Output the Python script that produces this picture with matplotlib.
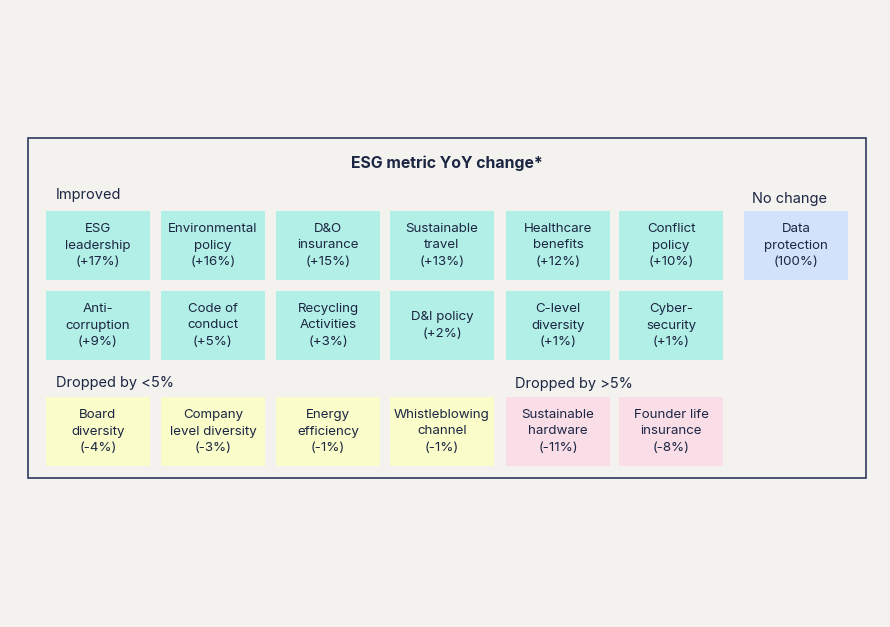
import matplotlib.pyplot as plt
from matplotlib.patches import Rectangle

plt.rcParams['font.family'] = ['Inter', 'DejaVu Sans']

# metric labels, grouped by tile row
row1 = ['ESG\nleadership', 'Environmental\npolicy', 'D&O\ninsurance',
        'Sustainable\ntravel', 'Healthcare\nbenefits', 'Conflict\npolicy',
        'Data\nprotection']
row1_vals = ['+17%', '+16%', '+15%', '+13%', '+12%', '+10%', '100%']
row1_grp = ['up', 'up', 'up', 'up', 'up', 'up', 'same']

row2 = ['Anti-\ncorruption', 'Code of\nconduct', 'Recycling\nActivities',
        'D&I policy', 'C-level\ndiversity', 'Cyber-\nsecurity']
row2_vals = ['+9%', '+5%', '+3%', '+2%', '+1%', '+1%']
row2_grp = ['up'] * 6

row3 = ['Board\ndiversity', 'Company\nlevel diversity', 'Energy\nefficiency',
        'Whistleblowing\nchannel', 'Sustainable\nhardware', 'Founder life\ninsurance']
row3_vals = ['-4%', '-3%', '-1%', '-1%', '-11%', '-8%']
row3_grp = ['small', 'small', 'small', 'small', 'big', 'big']

group_labels = ['Improved', 'No change', 'Dropped by <5%', 'Dropped by >5%']

colors = {'up': '#b1efe7', 'same': '#d3e2fb', 'small': '#fafcc9', 'big': '#f9dee8'}
ink = '#1c2643'

fig = plt.figure(figsize=(8.9, 6.27), dpi=100)
fig.patch.set_facecolor('#f3f2ee')
ax = fig.add_axes([0, 0, 1, 1])
ax.set_xlim(0, 890)
ax.set_ylim(627, 0)
ax.axis('off')

# outer frame
ax.add_patch(Rectangle((28, 138), 838, 340, fill=False, edgecolor='#2d3a5e', lw=1.2))
ax.text(447, 163, 'ESG metric YoY change*', ha='center', va='center',
        fontsize=11.4, fontweight='bold', color=ink)

col_x = [46, 161, 276, 390, 506, 619, 744]
row_y = [211, 291, 397]
w, h = 104, 69

for r, (names, vals, grps) in enumerate([(row1, row1_vals, row1_grp),
                                         (row2, row2_vals, row2_grp),
                                         (row3, row3_vals, row3_grp)]):
    for c, (name, val, g) in enumerate(zip(names, vals, grps)):
        x, y = col_x[c], row_y[r]
        ax.add_patch(Rectangle((x, y), w, h, facecolor=colors[g], edgecolor='none'))
        ax.text(x + w / 2, y + h / 2, f'{name}\n({val})', ha='center', va='center',
                fontsize=9.6, color=ink, linespacing=1.45)

ax.text(56, 195, group_labels[0], ha='left', va='center', fontsize=10.5, color=ink)
ax.text(790, 199, group_labels[1], ha='center', va='center', fontsize=10.5, color=ink)
ax.text(56, 383, group_labels[2], ha='left', va='center', fontsize=10.5, color=ink)
ax.text(515, 384, group_labels[3], ha='left', va='center', fontsize=10.5, color=ink)

fig.savefig('out.png', dpi=100, facecolor=fig.get_facecolor())
